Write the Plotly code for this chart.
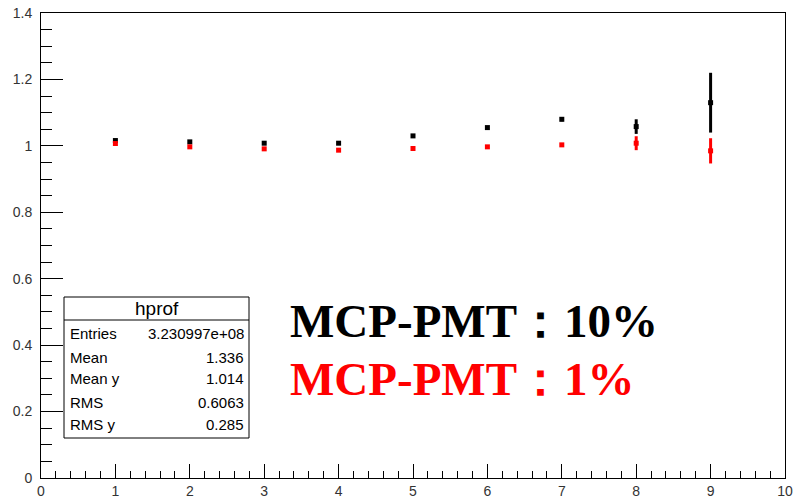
import plotly.graph_objects as go

# ---- data ----
x_vals = [1, 2, 3, 4, 5, 6, 7, 8, 9]
black_y = [1.016, 1.012, 1.008, 1.008, 1.030, 1.055, 1.080, 1.058, 1.130]
black_err = [0.004, 0.003, 0.003, 0.003, 0.003, 0.004, 0.006, 0.022, 0.090]
red_y = [1.007, 0.997, 0.991, 0.987, 0.992, 0.997, 1.003, 1.008, 0.985]
red_err = [0.003, 0.003, 0.003, 0.003, 0.003, 0.003, 0.004, 0.021, 0.038]

stats_title = "hprof"
stats_labels = ["Entries", "Mean", "Mean y", "RMS", "RMS y"]
stats_values = ["3.230997e+08", "1.336", "1.014", "0.6063", "0.285"]

legend_black = "MCP-PMT：10%"
legend_red = "MCP-PMT：1%"

fig = go.Figure()
fig.add_trace(go.Scatter(
    x=x_vals, y=black_y, mode="markers",
    marker=dict(color="black", symbol="square", size=5),
    error_y=dict(type="data", array=black_err, color="black", thickness=3, width=0),
    showlegend=False))
fig.add_trace(go.Scatter(
    x=x_vals, y=red_y, mode="markers",
    marker=dict(color="red", symbol="square", size=5),
    error_y=dict(type="data", array=red_err, color="red", thickness=3, width=0),
    showlegend=False))

tickfont = dict(family="Liberation Sans, Arial, sans-serif", size=14, color="#333")
fig.update_xaxes(range=[0, 10], dtick=1, tick0=0, ticks="inside", ticklen=14,
                 tickcolor="black", showline=True, linecolor="black", linewidth=1,
                 mirror=True, showgrid=False, zeroline=False, tickfont=tickfont,
                 automargin=False,
                 minor=dict(dtick=0.2, ticks="inside", ticklen=7, tickcolor="black"))
fig.update_yaxes(range=[0, 1.4], dtick=0.2, tick0=0, ticks="inside", ticklen=22,
                 tickcolor="black", showline=True, linecolor="black", linewidth=1,
                 mirror=True, showgrid=False, zeroline=False, tickfont=tickfont,
                 automargin=False, ticklabelstandoff=5,
                 minor=dict(dtick=0.05, ticks="inside", ticklen=11, tickcolor="black"))

L, R, T, B = 41, 9, 13, 22
W, H = 794, 500
pw, ph = W - L - R, H - T - B

def px(xp):
    return (xp - L) / pw

def py(yp):
    return (H - B - yp) / ph

shapes = []
annotations = []
# stats box
shapes.append(dict(type="rect", xref="paper", yref="paper",
                   x0=px(64), x1=px(249), y0=py(438), y1=py(297),
                   line=dict(color="black", width=1), fillcolor="white", layer="above"))
shapes.append(dict(type="line", xref="paper", yref="paper",
                   x0=px(64), x1=px(249), y0=py(320), y1=py(320),
                   line=dict(color="black", width=1), layer="above"))
annotations.append(dict(xref="paper", yref="paper", x=px(157), y=py(308),
                        text=stats_title, showarrow=False, xanchor="center", yanchor="middle",
                        font=dict(family="Liberation Sans, Arial", size=19, color="black")))
row_y = [333, 357, 378, 402, 424]
for lab, val, yy in zip(stats_labels, stats_values, row_y):
    annotations.append(dict(xref="paper", yref="paper", x=px(68), y=py(yy), text=lab,
                            showarrow=False, xanchor="left", yanchor="middle",
                            font=dict(family="Liberation Sans, Arial", size=15, color="black")))
    annotations.append(dict(xref="paper", yref="paper", x=px(246), y=py(yy), text=val,
                            showarrow=False, xanchor="right", yanchor="middle",
                            font=dict(family="Liberation Sans, Arial", size=15, color="black")))

# big labels
annotations.append(dict(xref="paper", yref="paper", x=px(288), y=py(321), text="<b>%s</b>" % legend_black,
                        showarrow=False, xanchor="left", yanchor="middle",
                        font=dict(family="Liberation Serif, Times New Roman, serif", size=47, color="black")))
annotations.append(dict(xref="paper", yref="paper", x=px(288), y=py(379), text="<b>%s</b>" % legend_red,
                        showarrow=False, xanchor="left", yanchor="middle",
                        font=dict(family="Liberation Serif, Times New Roman, serif", size=47, color="red")))

fig.update_layout(width=W, height=H, margin=dict(l=L, r=R, t=T, b=B, autoexpand=False),
                  paper_bgcolor="white", plot_bgcolor="white",
                  shapes=shapes, annotations=annotations, showlegend=False)

fig.write_html("out.html")
